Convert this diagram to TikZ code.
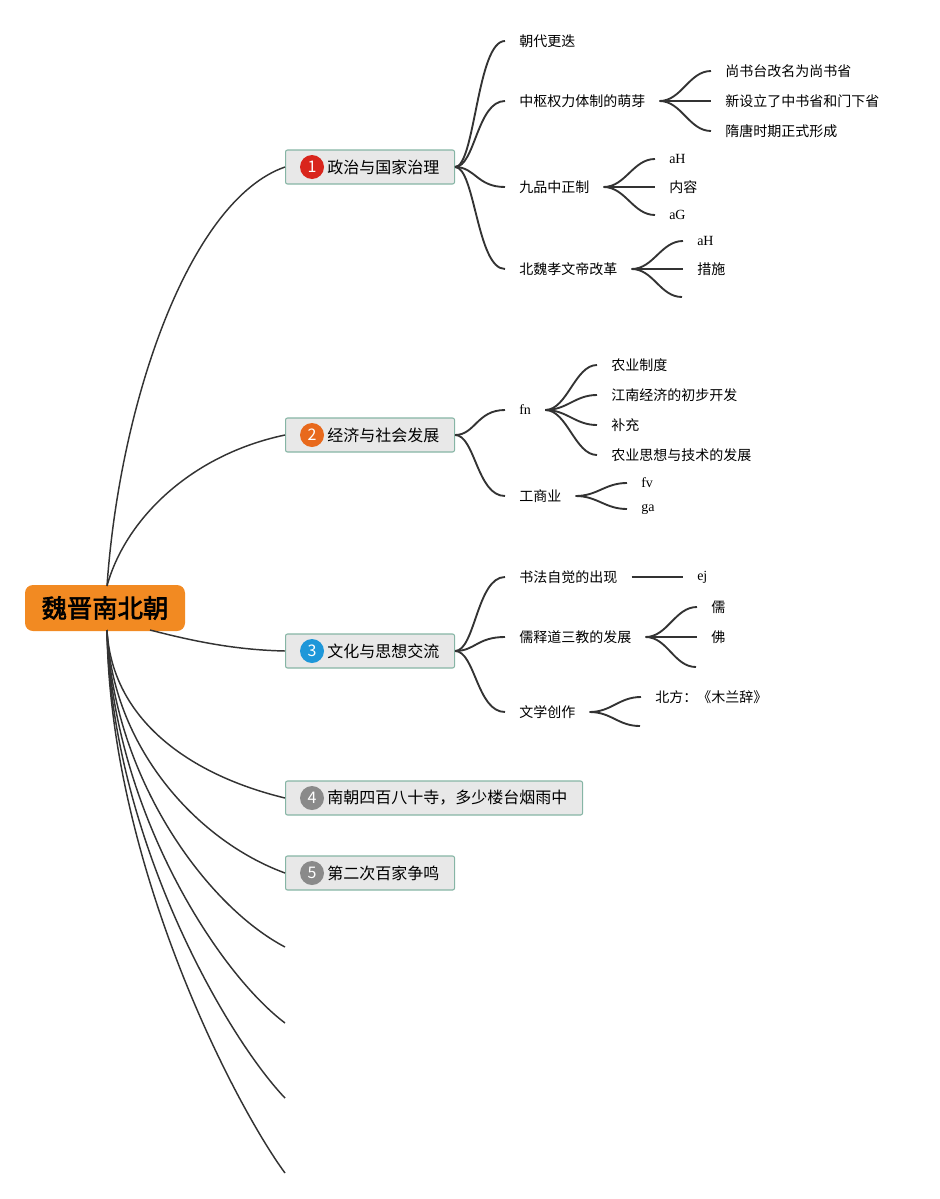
\documentclass[tikz,border=0pt]{standalone}
\usepackage{fontspec}
\setmainfont{Noto Sans CJK SC}
\newfontfamily\serif{Liberation Serif}
\newfontfamily\cjkbold[FakeBold=2.5]{Noto Sans CJK SC}
\definecolor{rootorange}{HTML}{F28A22}
\definecolor{boxfill}{HTML}{E8E8E8}
\definecolor{boxline}{HTML}{86B5A5}
\definecolor{lnk}{HTML}{333333}
\definecolor{cred}{HTML}{D9251C}
\definecolor{corange}{HTML}{E8691C}
\definecolor{cblue}{HTML}{1E97D9}
\definecolor{cgray}{HTML}{8A8A8A}
\begin{document}
\begin{tikzpicture}[x=0.75pt,y=-0.75pt,
  rootconn/.style={draw=lnk,line width=1.1pt},
  conn/.style={draw=lnk,line width=1.4pt},
  leaf/.style={anchor=west,inner xsep=10.5pt,inner ysep=1pt,font=\fontsize{10.5}{12}\selectfont},
  branchbox/.style={draw=boxline,fill=boxfill,line width=0.8pt,rounded corners=1.5pt,anchor=west,minimum height=25.5pt,inner sep=0pt},
  numdot/.style={circle,inner sep=0pt,minimum size=18pt,text=white,font=\fontsize{12}{14}\selectfont},
  btext/.style={anchor=west,inner sep=0pt,font=\fontsize{12}{14}\selectfont}]
\useasboundingbox (0,0) rectangle (939,1199);

% root
\node[fill=rootorange,rounded corners=6pt,minimum width=120pt,minimum height=34.5pt,inner sep=0pt,font=\cjkbold\fontsize{19}{22}\selectfont] (root) at (105,608) {魏晋南北朝};
\coordinate (rt) at (107,586);
\coordinate (rb) at (107,630);
\coordinate (rr) at (150,630);

% branch boxes
\node[branchbox,minimum width=126.75pt] (b1) at (285,167) {};
\node[numdot,fill=cred] (n1) at (312,167) {1};
\node[btext] (t1) at (327,167) {政治与国家治理};
\node[branchbox,minimum width=126.75pt] (b2) at (285,435) {};
\node[numdot,fill=corange] (n2) at (312,435) {2};
\node[btext] (t2) at (327,435) {经济与社会发展};
\node[branchbox,minimum width=126.75pt] (b3) at (285,651) {};
\node[numdot,fill=cblue] (n3) at (312,651) {3};
\node[btext] (t3) at (327,651) {文化与思想交流};
\node[branchbox,minimum width=222.75pt] (b4) at (285,798) {};
\node[numdot,fill=cgray] (n4) at (312,798) {4};
\node[btext] (t4) at (327,798) {南朝四百八十寺，多少楼台烟雨中};
\node[branchbox,minimum width=126.75pt] (b5) at (285,873) {};
\node[numdot,fill=cgray] (n5) at (312,873) {5};
\node[btext] (t5) at (327,873) {第二次百家争鸣};
\coordinate (e6) at (285,947);
\coordinate (e7) at (285,1023);
\coordinate (e8) at (285,1098);
\coordinate (e9) at (285,1173);

% root connectors
\draw[rootconn] (rt) .. controls (120,400) and (190,200) .. (b1.west);
\draw[rootconn] (rt) .. controls (125,520) and (190,455) .. (b2.west);
\draw[rootconn] (rr) .. controls (200,643) and (240,650) .. (b3.west);
\draw[rootconn] (rb) .. controls (112,720) and (190,775) .. (b4.west);
\draw[rootconn] (rb) .. controls (112,745) and (195,840) .. (b5.west);
\draw[rootconn] (rb) .. controls (112,775) and (205,905) .. (e6);
\draw[rootconn] (rb) .. controls (112,805) and (215,970) .. (e7);
\draw[rootconn] (rb) .. controls (111,835) and (225,1035) .. (e8);
\draw[rootconn] (rb) .. controls (110,865) and (235,1105) .. (e9);

% branch 1 children
\node[leaf] (c11) at (505,41) {朝代更迭};
\node[leaf] (c12) at (505,101) {中枢权力体制的萌芽};
\node[leaf] (c13) at (505,187) {九品中正制};
\node[leaf] (c14) at (505,269) {北魏孝文帝改革};
\foreach \c in {c11,c12,c13,c14}
  \draw[conn] (b1.east) .. controls +(20,0) and +(-28,0) .. (\c.west);

\node[leaf] (g121) at (711,71) {尚书台改名为尚书省};
\node[leaf] (g122) at (711,101) {新设立了中书省和门下省};
\node[leaf] (g123) at (711,131) {隋唐时期正式形成};
\foreach \g in {g121,g122,g123}
  \draw[conn] (c12.east) .. controls +(22,0) and +(-22,0) .. (\g.west);

\node[leaf] (g131) at (655,159) {\serif aH};
\node[leaf] (g132) at (655,187) {内容};
\node[leaf] (g133) at (655,215) {\serif aG};
\foreach \g in {g131,g132,g133}
  \draw[conn] (c13.east) .. controls +(22,0) and +(-22,0) .. (\g.west);

\node[leaf] (g141) at (683,241) {\serif aH};
\node[leaf] (g142) at (683,269) {措施};
\coordinate (g143) at (682,297);
\draw[conn] (c14.east) .. controls +(22,0) and +(-22,0) .. (g141.west);
\draw[conn] (c14.east) .. controls +(22,0) and +(-22,0) .. (g142.west);
\draw[conn] (c14.east) .. controls +(22,0) and +(-22,0) .. (g143);

% branch 2 children
\node[leaf] (c21) at (505,410) {\serif fn};
\node[leaf] (c22) at (505,496) {工商业};
\foreach \c in {c21,c22}
  \draw[conn] (b2.east) .. controls +(20,0) and +(-28,0) .. (\c.west);

\node[leaf] (g211) at (597,365) {农业制度};
\node[leaf] (g212) at (597,395) {江南经济的初步开发};
\node[leaf] (g213) at (597,425) {补充};
\node[leaf] (g214) at (597,455) {农业思想与技术的发展};
\foreach \g in {g211,g212,g213,g214}
  \draw[conn] (c21.east) .. controls +(22,0) and +(-22,0) .. (\g.west);

\node[leaf] (g221) at (627,483) {\serif fv};
\node[leaf] (g222) at (627,509) {\serif ga};
\foreach \g in {g221,g222}
  \draw[conn] (c22.east) .. controls +(22,0) and +(-22,0) .. (\g.west);

% branch 3 children
\node[leaf] (c31) at (505,577) {书法自觉的出现};
\node[leaf] (c32) at (505,637) {儒释道三教的发展};
\node[leaf] (c33) at (505,712) {文学创作};
\foreach \c in {c31,c32,c33}
  \draw[conn] (b3.east) .. controls +(20,0) and +(-28,0) .. (\c.west);

\node[leaf] (g311) at (683,577) {\serif ej};
\draw[conn] (c31.east) -- (g311.west);

\node[leaf] (g321) at (697,607) {儒};
\node[leaf] (g322) at (697,637) {佛};
\coordinate (g323) at (696,667);
\draw[conn] (c32.east) .. controls +(22,0) and +(-22,0) .. (g321.west);
\draw[conn] (c32.east) .. controls +(22,0) and +(-22,0) .. (g322.west);
\draw[conn] (c32.east) .. controls +(22,0) and +(-22,0) .. (g323);

\node[leaf] (g331) at (641,697) {北方：《木兰辞》};
\coordinate (g332) at (640,726);
\draw[conn] (c33.east) .. controls +(22,0) and +(-22,0) .. (g331.west);
\draw[conn] (c33.east) .. controls +(22,0) and +(-22,0) .. (g332);
\end{tikzpicture}
\end{document}
